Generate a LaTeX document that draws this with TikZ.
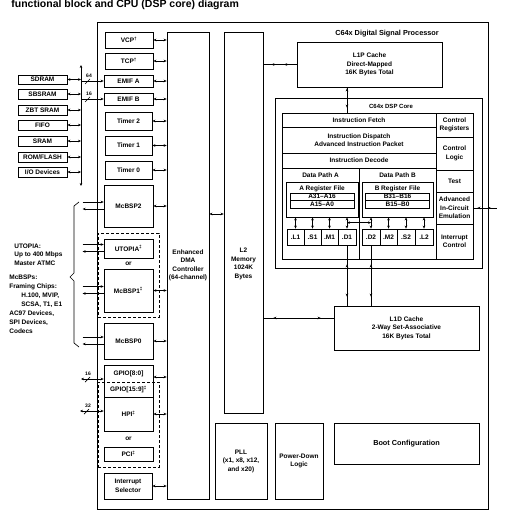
\documentclass[tikz,border=0pt]{standalone}
\usepackage{fontspec}
\setmainfont{Liberation Sans}
\usetikzlibrary{arrows.meta,calc}
\newcommand\mybox[7][]{\node[blk,#1, minimum width={(#5-#3)*1pt}, minimum height={(#6-#4)*1pt}] (#2) at ({(#3+#5)/2},{(#4+#6)/2}) {#7};}
\begin{document}
\begin{tikzpicture}[x=1pt,y=-1pt,
  >={Stealth[length=3pt,width=2.6pt]},
  line width=0.7pt,
  blk/.style={draw, line width=0.7pt, inner sep=0pt, align=center, font=\bfseries\fontsize{6.5}{8.5}\selectfont},
  txt/.style={inner sep=0pt, align=center, font=\bfseries\fontsize{6.5}{8.5}\selectfont},
  dsh/.style={dash pattern=on 3pt off 2pt},
  small/.style={inner sep=0pt, font=\bfseries\fontsize{5}{6}\selectfont}
]
\useasboundingbox (0,0) rectangle (514,518);

\node[anchor=base west, inner sep=0pt, font=\bfseries\fontsize{10.5}{12}\selectfont] (title) at (11,7.5) {functional block and CPU (DSP core) diagram};

% outer processor box
\mybox{dsp}{97}{22}{488}{509}{}
\node[txt, font=\bfseries\fontsize{7.3}{9}\selectfont] (dsplbl) at (387,34) {C64x Digital Signal Processor};

% external memories
\mybox{sdram}{18}{75}{67}{84}{SDRAM}
\mybox{sbsram}{18}{89}{67}{99}{SBSRAM}
\mybox{zbt}{18}{105}{67}{115}{ZBT SRAM}
\mybox{fifo}{18}{120}{67}{130}{FIFO}
\mybox{sram}{18}{136}{67}{146}{SRAM}
\mybox{rom}{18}{152}{67}{162}{ROM/FLASH}
\mybox{iodev}{18}{167}{67}{177}{I/O Devices}
\coordinate (bust) at (81,65);
\coordinate (busb) at (81,186);
\draw[<->] (bust) -- (busb);
\foreach \m in {sdram,sbsram,zbt,fifo,sram,rom,iodev}{
  \draw[<->] (\m.east) -- (\m.east -| bust);
}

% peripherals
\mybox{vcp}{105}{32}{153}{48}{VCP\textsuperscript{†}}
\mybox{tcp}{105}{53}{153}{69}{TCP\textsuperscript{†}}
\mybox{emifa}{104}{75}{153}{87}{EMIF A}
\mybox{emifb}{104}{93}{153}{105}{EMIF B}
\mybox{tmr2}{105}{112}{152}{130}{Timer 2}
\mybox{tmr1}{105}{136}{152}{155}{Timer 1}
\mybox{tmr0}{105}{161}{152}{179}{Timer 0}
\mybox{mcb2}{104}{185}{153}{227}{McBSP2}
\mybox{utop}{104}{239}{153}{258}{UTOPIA\textsuperscript{‡}}
\node[txt] (or1) at (128.5,263.5) {or};
\mybox{mcb1}{104}{269}{153}{312}{McBSP1\textsuperscript{‡}}
\mybox[dsh]{dsh1}{98}{233}{159}{317}{}
\mybox{mcb0}{104}{323}{153}{359}{McBSP0}
\mybox{gpio}{104}{365}{153}{397}{}
\node[txt] (g8) at (128.5,373.5) {GPIO[8:0]};
\node[txt] (g16) at (128.5,389.5) {GPIO[15:9]\textsuperscript{‡}};
\mybox{hpi}{104}{397}{153}{431}{HPI\textsuperscript{‡}}
\node[txt] (or2) at (128.5,439) {or};
\mybox{pci}{104}{447}{153}{461}{PCI\textsuperscript{‡}}
\mybox[dsh]{dsh2}{98}{382}{159}{467}{}
\mybox{isel}{104}{473}{152}{499}{Interrupt\\Selector}

% bus to EMIF
\draw[->] (emifa.west -| bust) -- (emifa.west);
\draw ($(emifa.west -| bust)+(4,3)$) -- ++(5,-5);
\node[small] (w64) at ($(emifa.west -| bust)+(8,-5)$) {64};
\draw[->] (emifb.west -| bust) -- (emifb.west);
\draw ($(emifb.west -| bust)+(4,3)$) -- ++(5,-5);
\node[small] (w16a) at ($(emifb.west -| bust)+(8,-5)$) {16};

% GPIO / HPI external
\coordinate (gp) at (81,379);
\draw[<->] (gp) -- (gp -| gpio.west);
\draw ($(gp)+(4,3)$) -- ++(5,-5);
\node[small] (w16b) at ($(gp)+(7,-5)$) {16};
\coordinate (hp) at (80,411);
\draw[<->] (hp) -- (hp -| hpi.west);
\draw ($(hp)+(4,3)$) -- ++(5,-5);
\node[small] (w32) at ($(hp)+(8,-5)$) {32};

% serial port links
\foreach \n in {mcb2,utop,mcb1,mcb0}{
  \draw[->] ($(\n.west)+(-21,-4)$) -- ($(\n.west)+(0,-4)$);
  \draw[<-] ($(\n.west)+(-21,3)$) -- ($(\n.west)+(0,3)$);
}
\draw (79,202) -- (74,206) -- (74,273) -- (70,277) -- (74,281) -- (74,343) -- (79,347);
\node[txt, align=left, anchor=north west] (uttxt) at (14,243.5) {UTOPIA:\\Up to 400 Mbps\\Master ATMC};
\node[txt, align=left, anchor=north west, font=\bfseries\fontsize{6.5}{9.1}\selectfont] (mctxt) at (9,274.5) {McBSPs:\\Framing Chips:\\\hspace*{12pt}H.100, MVIP,\\\hspace*{12pt}SCSA, T1, E1\\AC97 Devices,\\SPI Devices,\\Codecs};

% DMA and L2
\mybox{dma}{167}{32}{209}{499}{Enhanced\\DMA\\Controller\\(64-channel)}
\mybox{l2}{224}{32}{263}{413}{}
\node[txt] (l2t) at (243.5,264) {L2\\Memory\\1024K\\Bytes};
\foreach \n in {vcp,tcp,emifa,emifb,tmr2,tmr1,tmr0,mcb2,mcb1,mcb0,hpi,isel}{
  \draw[<->] (\n.east) -- (\n.east -| dma.west);
}
\coordinate (gdm) at (0,377);
\draw[<->] (gdm -| gpio.east) -- (gdm -| dma.west);
\coordinate (dl) at (0,214);
\draw[<->] (dl -| dma.east) -- (dl -| l2.west);

% bottom blocks
\mybox{pll}{215}{423}{267}{499}{PLL\\(x1, x8, x12,\\and x20)}
\mybox{pdl}{275}{423}{323}{499}{Power-Down\\Logic}
\mybox[font=\bfseries\fontsize{7.3}{9}\selectfont]{boot}{334}{423}{479}{464}{Boot Configuration}

% caches
\mybox{l1p}{297}{42}{442}{87}{L1P Cache\\Direct-Mapped\\16K Bytes Total}
\mybox{l1d}{334}{306}{479}{350}{L1D Cache\\2-Way Set-Associative\\16K Bytes Total}

% DSP core
\mybox{core}{275}{98}{482}{268}{}
\node[txt, font=\bfseries\fontsize{6}{7}\selectfont] (corelbl) at (391,106) {C64x DSP Core};
\mybox{fetch}{282}{113}{436}{127}{Instruction Fetch}
\mybox{disp}{282}{127}{436}{153}{Instruction Dispatch\\Advanced Instruction Packet}
\mybox{dec}{282}{153}{436}{168}{Instruction Decode}
\mybox{dpa}{282}{168}{359}{259}{}
\mybox{dpb}{359}{168}{436}{259}{}
\node[txt] (dpal) at (320.5,175.5) {Data Path A};
\node[txt] (dpbl) at (397.5,175.5) {Data Path B};
\mybox{creg}{436}{113}{473}{137}{Control\\Registers}
\mybox{clog}{436}{137}{473}{170}{Control\\Logic}
\mybox{test}{436}{170}{473}{192}{Test}
\mybox{emu}{436}{192}{473}{224}{Advanced\\In-Circuit\\Emulation}
\mybox{intc}{436}{224}{473}{259}{Interrupt\\Control}

\mybox{arf}{286}{182}{358}{217}{}
\node[txt] (arfl) at (322,188.5) {A Register File};
\mybox{ahi}{290}{193}{354}{200.5}{A31–A16}
\mybox{alo}{290}{200.5}{354}{208}{A15–A0}
\mybox{brf}{362}{182}{433}{217}{}
\node[txt] (brfl) at (397.5,188.5) {B Register File};
\mybox{bhi}{365.5}{193}{429.5}{200.5}{B31–B16}
\mybox{blo}{365.5}{200.5}{429.5}{208}{B15–B0}

\mybox{ul1}{287}{229}{304}{245}{.L1}
\mybox{us1}{304}{229}{321}{245}{.S1}
\mybox{um1}{321}{229}{338}{245}{.M1}
\mybox{ud1}{338}{229}{356}{245}{.D1}
\mybox{ud2}{362}{229}{380}{245}{.D2}
\mybox{um2}{380}{229}{397}{245}{.M2}
\mybox{us2}{397}{229}{415}{245}{.S2}
\mybox{ul2}{415}{229}{433}{245}{.L2}

\foreach \u in {ul1,us1,um1,ud1}{
  \draw[<->] (\u.north) -- (\u.north |- arf.south);
}
\foreach \u in {ud2,um2,us2,ul2}{
  \draw[<->] (\u.north) -- (\u.north |- brf.south);
}
\draw[<->] ($(ud1.north)+(0,-6)$) -- ($(ud2.north)+(0,-6)$);

% cache connections
\draw (l2.east |- l1p.west) -- (l1p.west);
\draw[<->, shorten <=8pt, shorten >=8pt] (l2.east |- l1p.west) -- (l1p.west);
\coordinate (l1dp) at ($(l1d.west)+(0,-10)$);
\draw (l1dp -| l2.east) -- (l1dp);
\draw[<->, shorten <=10pt, shorten >=13pt] (l1dp -| l2.east) -- (l1dp);
\draw (l1p.south -| ud1) -- (fetch.north -| ud1);
\draw[<->, shorten <=1pt, shorten >=5pt] (l1p.south -| ud1) -- (fetch.north -| ud1);
\foreach \u in {ud1,ud2}{
  \draw (\u.south) -- (\u.south |- l1d.north);
  \draw[<->, shorten <=19pt, shorten >=9pt] (\u.south) -- (\u.south |- l1d.north);
}
\coordinate (emux) at (497,208);
\draw (emu.east) -- (emux);
\draw[<->, shorten <=4pt, shorten >=6pt] (emu.east) -- (emux);
\end{tikzpicture}
\end{document}
